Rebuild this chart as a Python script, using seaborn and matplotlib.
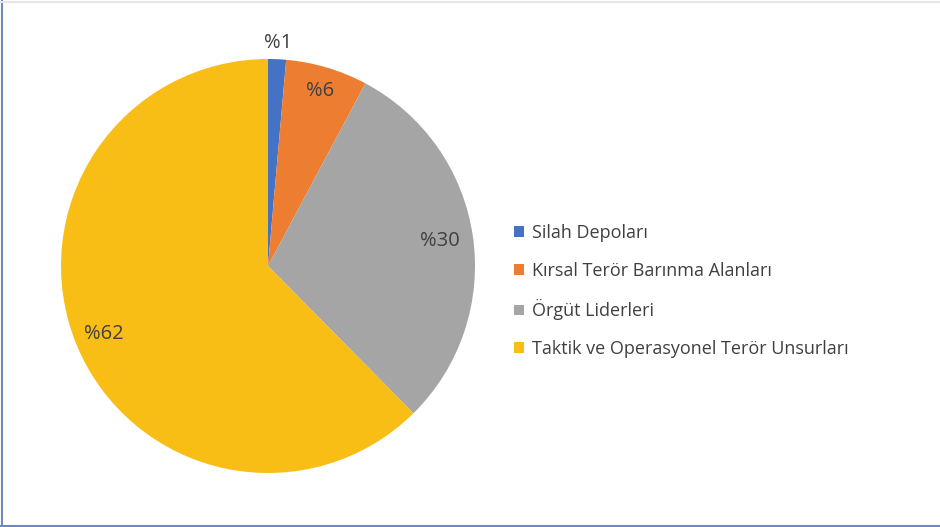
import numpy as np
import matplotlib
matplotlib.use("Agg")
import matplotlib.pyplot as plt
from matplotlib.lines import Line2D
import seaborn as sns

# slice shares (percent)
categories = ["Silah Depoları", "Kırsal Terör Barınma Alanları", "Örgüt Liderleri",
              "Taktik ve Operasyonel Terör Unsurları"]
shares = [1.4, 6.4, 29.8, 62.4]
colors = ["#4472C4", "#ED7D31", "#A5A5A5", "#F8BE16"]

sns.set_theme(style="white")
plt.rcParams['font.family'] = ['Open Sans', 'DejaVu Sans']

fig = plt.figure(figsize=(9.4, 5.27), dpi=100)
fig.patch.set_facecolor("white")

# pie centre ~ (268, 266) px, radius ~207 px
ax = fig.add_axes([61 / 940, 54 / 527, 414 / 940, 414 / 527])
wedges, _ = ax.pie(shares, colors=colors, startangle=90, counterclock=False,
                   radius=1, wedgeprops=dict(linewidth=0))
ax.set_xlim(-1, 1)
ax.set_ylim(-1, 1)
ax.set_aspect("equal")
ax.axis("off")

# percent labels, placed at each wedge's mid angle
dist = [1.08, 0.88, 0.84, 0.86]
total = sum(shares)
for w, v, d in zip(wedges, shares, dist):
    ang = np.deg2rad((w.theta1 + w.theta2) / 2)
    ax.text(d * np.cos(ang), d * np.sin(ang), "%" + str(round(v / total * 100)),
            ha="center", va="center", fontsize=14.5, color="#404040")

leg = fig.legend(wedges, categories, loc="center left",
                 bbox_to_anchor=(498 / 940, 1 - 291 / 527), frameon=False,
                 fontsize=13, handlelength=0.55, handleheight=0.55,
                 handletextpad=0.45, labelspacing=1.1)
for t in leg.get_texts():
    t.set_color("#404040")

# frame lines of the original screenshot
fig.add_artist(Line2D([1.5 / 940, 1.5 / 940], [0, 1], color="#6d8ab8", lw=1.5))
fig.add_artist(Line2D([0, 1], [1.5 / 527, 1.5 / 527], color="#6d8ab8", lw=1.5))
fig.add_artist(Line2D([0, 1], [1 - 2 / 527, 1 - 2 / 527], color="#e6e6e6", lw=1.5))

fig.savefig("out.png", dpi=100)
